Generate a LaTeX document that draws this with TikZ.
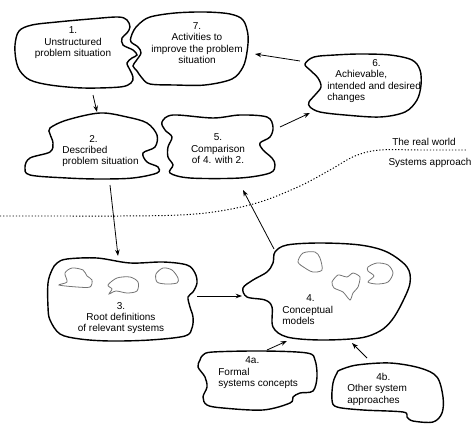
\documentclass[tikz,border=0pt]{standalone}
\usepackage{fontspec}
\setmainfont{Liberation Sans}
\usetikzlibrary{arrows.meta}
\tikzset{blob/.style={draw, line width=0.8pt},
         subblob/.style={draw=black!55, line width=0.45pt},
         lbl/.style={font=\fontsize{5.7}{6.5}\selectfont, inner sep=0pt, align=center},
         flowarrow/.style={-{Stealth[length=3.6pt,width=2.6pt]}, line width=0.45pt},
         boundary/.style={line width=0.55pt, dash pattern=on 0.7pt off 1.1pt}}

\begin{document}
\begin{tikzpicture}[x=0.02cm,y=-0.02cm] % one unit is one pixel of the sketch, y runs down
\useasboundingbox (0,0) rectangle (474,426);
% the blobs
\draw[blob] plot[smooth cycle, tension=0.55] coordinates {(15,45) (19,31) (32,25) (57,22) (90,19) (118,17) (127,20) (130,27) (127,33) (122,38) (123,45) (133,50) (137,55) (132,58) (127,63) (130,70) (133,77) (131,83) (120,87) (83,88) (50,85) (30,80) (20,71) (16,60)};
\draw[blob] plot[smooth cycle, tension=0.55] coordinates {(150,17) (175,13) (205,12) (230,14) (243,20) (248,35) (247,52) (243,67) (232,79) (205,85) (175,85) (150,84) (142,78) (137,71) (133,66) (136,61) (141,53) (138,47) (131,42) (131,37) (134,30) (139,24)};
\draw[blob] plot[smooth cycle, tension=0.55] coordinates {(305,64) (314,57) (335,55) (360,54) (390,55) (412,60) (420,70) (421,85) (417,100) (405,112) (380,117) (345,115) (320,112) (310,107) (309,102) (315,95) (321,87) (318,78) (310,70)};
\draw[blob] plot[smooth cycle, tension=0.55] coordinates {(50,128) (67,120) (100,113) (127,117) (147,123) (157,135) (155,147) (143,153) (147,162) (158,167) (157,173) (133,178) (100,179) (67,178) (30,175) (25,167) (30,158) (50,152) (53,143) (50,134)};
\draw[blob] plot[smooth cycle, tension=0.55] coordinates {(162,122) (173,115) (213,118) (240,115) (267,117) (273,127) (270,137) (260,143) (263,150) (272,158) (275,165) (270,173) (240,178) (190,178) (170,173) (173,165) (168,157) (168,147) (172,137) (165,130)};
\draw[blob] plot[smooth cycle, tension=0.55] coordinates {(57,263) (67,259) (97,258) (130,263) (163,262) (187,265) (195,273) (197,283) (193,292) (188,297) (190,307) (193,317) (192,328) (185,336) (150,340) (110,341) (80,339) (60,334) (50,320) (48,307) (48,283) (52,270)};
\draw[blob] plot[smooth cycle, tension=0.55] coordinates {(275,252) (287,245) (320,243) (360,245) (387,252) (407,267) (410,283) (402,303) (392,320) (380,331) (360,338) (320,340) (287,337) (273,327) (272,307) (265,300) (247,297) (243,288) (253,280) (267,272) (273,263)};
\draw[blob] plot[smooth cycle, tension=0.55] coordinates {(203,355) (213,352) (263,351) (307,353) (315,360) (317,377) (313,391) (300,393) (293,397) (290,403) (263,410) (223,408) (207,405) (203,397) (207,387) (205,377) (198,367) (200,360)};
\draw[blob] plot[smooth cycle, tension=0.55] coordinates {(340,370) (357,365) (390,363) (420,368) (437,377) (443,397) (442,413) (433,422) (413,421) (407,417) (403,412) (363,410) (337,407) (332,400) (333,383) (337,373)};
% small models inside 3. and 4.
\draw[subblob] plot[smooth cycle, tension=0.5] coordinates {(59,285) (67,282) (65,273) (72,268) (83,270) (87,276) (92,280) (90,287) (77,287)};
\draw[subblob] plot[smooth cycle, tension=0.5] coordinates {(108,285) (117,278) (130,277) (138,282) (137,291) (127,293) (116,291) (109,294) (112,289)};
\draw[subblob] plot[smooth cycle, tension=0.5] coordinates {(156,274) (163,268) (172,270) (178,278) (177,283) (166,284) (157,282)};
\draw[subblob] plot[smooth cycle, tension=0.5] coordinates {(298,262) (303,253) (315,252) (320,258) (322,270) (313,272) (305,268)};
\draw[subblob] plot[smooth cycle, tension=0.4] coordinates {(332,282) (338,275) (347,277) (353,273) (360,277) (358,287) (353,293) (350,300) (343,292) (334,288)};
\draw[subblob] plot[smooth cycle, tension=0.5] coordinates {(368,267) (377,263) (388,265) (393,273) (388,282) (377,284) (368,282) (374,276) (368,271)};
% texts
\node[lbl] (t1) at (73,43) {1.\\Unstructured\\problem situation};
\node[lbl] (t7) at (197,43) {7.\\Activities to\\improve the problem\\situation};
\node[lbl, align=left, anchor=west] (t6) at (327,81) {\hspace*{4.5em}6.\\\hspace*{0.8em}Achievable,\\intended and desired\\changes};
\node[lbl, align=left, anchor=west] (t2) at (62,151) {\hspace*{2.7em}2.\\Described\\problem situation};
\node[lbl] (t5) at (218,149) {5.\\Comparison\\of 4. with 2.};
\node[lbl] (t3) at (121,318) {3.\\Root definitions\\of relevant systems};
\node[lbl, align=left, anchor=west] (t4) at (282,310) {\hspace*{2.4em}4.\\Conceptual\\models};
\node[lbl, align=left, anchor=west] (t4a) at (218,373) {\hspace*{2.7em}4a.\\Formal\\systems concepts};
\node[lbl, align=left, anchor=west] (t4b) at (347,389) {\hspace*{2.9em}4b.\\Other system\\approaches};
% the line between the two worlds
\draw[boundary] plot[smooth, tension=0.6] coordinates {(0,216) (60,216) (120,216) (180,215) (220,211) (260,202) (300,186) (330,170) (355,156) (380,150) (420,150) (467,150)};
\node[lbl] (real) at (424,142) {The real world};
\node[lbl] (sysapp) at (430,163) {Systems approach};
% arrow ends
\coordinate (o1) at (93,95);   \coordinate (i2) at (97,112);
\coordinate (o2) at (110,185); \coordinate (i3) at (118,256);
\coordinate (o3) at (197,296); \coordinate (i4) at (242,296);
\coordinate (o4) at (274,249); \coordinate (i5) at (243,190);
\coordinate (o5) at (280,127); \coordinate (i6) at (310,113);
\coordinate (o6) at (300,61);  \coordinate (i7) at (255,54);
\coordinate (o4a) at (267,350); \coordinate (i4x) at (287,341);
\coordinate (o4b) at (367,358); \coordinate (i4y) at (352,343);
\draw[flowarrow] (o1) -- (i2);
\draw[flowarrow] (o2) -- (i3);
\draw[flowarrow] (o3) -- (i4);
\draw[flowarrow] (o4) -- (i5);
\draw[flowarrow] (o5) -- (i6);
\draw[flowarrow] (o6) -- (i7);
\draw[flowarrow] (o4a) -- (i4x);
\draw[flowarrow] (o4b) -- (i4y);
\end{tikzpicture}
\end{document}
